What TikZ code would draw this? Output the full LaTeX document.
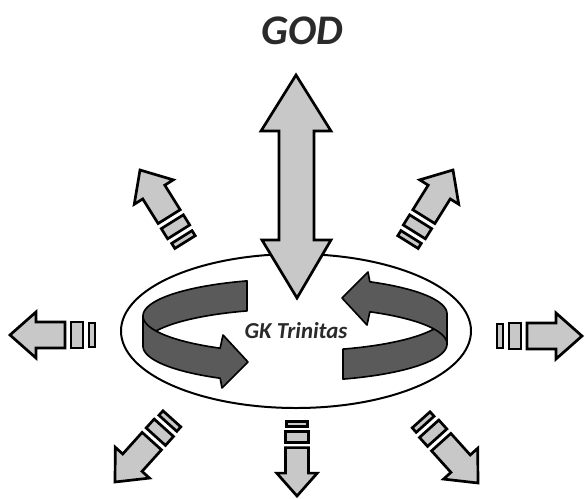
\documentclass[tikz,border=0pt]{standalone}
\usepackage{fontspec}
\newfontfamily\labelfont{Carlito}
\usetikzlibrary{shapes.geometric}
\definecolor{raygray}{HTML}{C8C8C8}
\definecolor{bandgray}{HTML}{5A5A5A}
\definecolor{inkgray}{HTML}{2A2A2A}

\begin{document}
\begin{tikzpicture}[
  x=0.03cm, y=-0.03cm,
  ray/.style={
    draw=black,
    fill=raygray,
    line width=2.3pt,
    line join=miter
  },
  band/.style={
    draw=black,
    fill=bandgray,
    line width=1.4pt,
    line join=round
  },
  core/.style={
    ellipse,
    draw=black,
    line width=1.7pt,
    fill=white,
    minimum width=10.5cm,
    minimum height=4.62cm,
    inner sep=0pt,
    font=\labelfont\bfseries\itshape\fontsize{19.5}{22}\selectfont,
    text=inkgray
  },
  title/.style={
    font=\labelfont\bfseries\itshape\fontsize{36}{40}\selectfont,
    text=inkgray
  },
  spoke/.pic={
    \draw[ray] (0,0) -- (-26,-23) -- (-26,-13) -- (-55,-13) -- (-55,13) -- (-26,13) -- (-26,23) -- cycle;
    \draw[ray] (-61,-13) rectangle (-73,13);
    \draw[ray] (-79,-12) rectangle (-85,12);
  },
  swirl/.pic={
    % inner side of the band, behind
    \draw[band] plot[domain=180:251.6, samples=40] ({152*cos(\x)},{-14+37*sin(\x)})
      -- plot[domain=251.6:180, samples=40] ({152*cos(\x)},{16+37*sin(\x)}) -- cycle;
    % outer side of the band, in front, with its head
    \draw[band] plot[domain=119.5:180, samples=40] ({152*cos(\x)},{-14+37*sin(\x)})
      -- plot[domain=180:119.5, samples=40] ({152*cos(\x)},{16+37*sin(\x)})
      -- (-73,58) -- (-47,32) -- (-72,5) -- cycle;
  }
]
\useasboundingbox (0,0) rectangle (585,498);

\node[core] (core) at (296,331) {GK Trinitas};

\pic at (295,330) {swirl};
\pic[rotate=180] at (295,330) {swirl};

% link up to GOD
\draw[ray] (296,75) -- (331,131) -- (314,131) -- (314,240) -- (331,240) -- (297,298)
  -- (262,240) -- (279,240) -- (279,131) -- (261,131) -- cycle;

\node[title] (god) at (302,31) {GOD};

% rays going out
\pic[rotate=122] at (140,170) {spoke};
\pic[rotate=58] at (453,170) {spoke};
\pic[rotate=180] at (10,335) {spoke};
\pic at (582,336) {spoke};
\pic[rotate=228] at (115,482) {spoke};
\pic[rotate=270, scale=0.88] at (297,496) {spoke};
\pic[rotate=312] at (478,483) {spoke};

\end{tikzpicture}
\end{document}
